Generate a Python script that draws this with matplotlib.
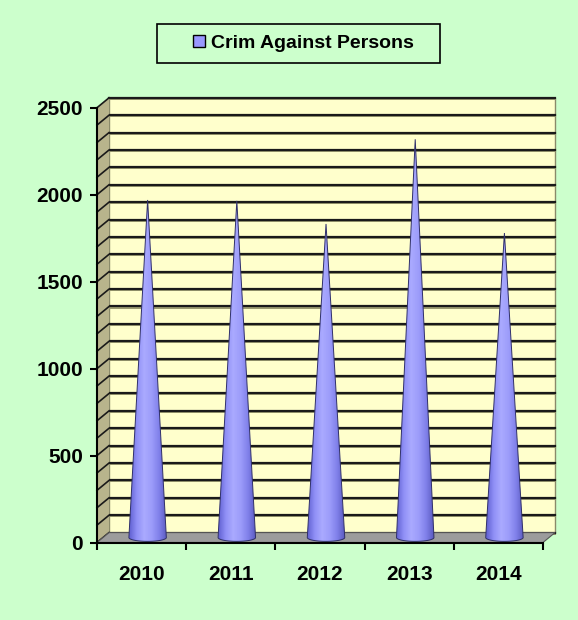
import matplotlib.pyplot as plt
import numpy as np
from matplotlib.patches import Polygon, Rectangle, Patch
from matplotlib.colors import LinearSegmentedColormap

years = ['2010', '2011', '2012', '2013', '2014']
crimes = [1941, 1936, 1803, 2290, 1751]
y_ticks = [0, 500, 1000, 1500, 2000, 2500]
grid_step = 100
series_name = 'Crim Against Persons'

plt.rcParams['font.family'] = ['Liberation Sans', 'DejaVu Sans']
plt.rcParams['font.weight'] = 'bold'

fig = plt.figure(figsize=(5.78, 6.2), dpi=100, facecolor='#CCFFCC')
ax = fig.add_axes([97/578, 77.5/620, 446/578, 434.8/620])
ax.patch.set_visible(False)

# fake 3d depth, in data units (about 12 px right and 10 px up)
dx, dy = 0.135, 57
x0, x1 = -0.5, len(years) - 0.5
ymax = y_ticks[-1]

# back wall with gridlines
ax.add_patch(Rectangle((x0 + dx, dy), x1 - x0, ymax, fc='#FFFFCC', ec='#8a8a6a',
                       lw=1, clip_on=False, zorder=0))
for v in range(0, ymax + 1, grid_step):
    ax.plot([x0 + dx, x1 + dx], [v + dy - 6, v + dy - 6], color='#9a9a70', lw=1.4,
            clip_on=False, zorder=0.4)
    ax.plot([x0 + dx, x1 + dx], [v + dy, v + dy], color='#1a1a1a', lw=1.6,
            clip_on=False, zorder=0.5)

# side wall
ax.add_patch(Polygon([(x0, 0), (x0 + dx, dy), (x0 + dx, ymax + dy), (x0, ymax)],
                     fc='#B8B48C', ec='none', clip_on=False, zorder=1))
for v in range(0, ymax + 1, grid_step):
    ax.plot([x0, x0 + dx], [v, v + dy], color='#1a1a1a', lw=1.2,
            clip_on=False, zorder=1.1)

# floor
ax.add_patch(Polygon([(x0, 0), (x1, 0), (x1 + dx, dy), (x0 + dx, dy)],
                     fc='#9C9C9C', ec='#555555', lw=0.8, clip_on=False, zorder=1.5))

# cones
cmap = LinearSegmentedColormap.from_list(
    'cone', ['#6060d0', '#9090f6', '#aaaaff', '#9c9cfa', '#8080ea', '#5a5ac0'])
grad = np.linspace(0, 1, 64).reshape(1, -1)
r, ey = 0.21, 22
theta = np.linspace(np.pi, 2 * np.pi, 40)
for i, v in enumerate(crimes):
    cx, by = i + dx / 2, dy / 2
    arc = list(zip(cx + r * np.cos(theta), by + ey * np.sin(theta)))
    cone = Polygon([(cx, v + by)] + arc, closed=True, fc='none', ec='#30306a',
                   lw=0.7, zorder=4, clip_on=False)
    ax.add_patch(cone)
    im = ax.imshow(grad, cmap=cmap, extent=[cx - r, cx + r, by - ey, v + by],
                   aspect='auto', zorder=3)
    im.set_clip_path(cone)

ax.set_xlim(x0, x1)
ax.set_ylim(0, ymax)

# axes and ticks
for side in ['top', 'right']:
    ax.spines[side].set_visible(False)
for side in ['left', 'bottom']:
    ax.spines[side].set_linewidth(1.5)
    ax.spines[side].set_zorder(5)
ax.set_yticks(y_ticks)
ax.tick_params(axis='y', direction='out', length=5, width=1.5, pad=5, labelsize=15)
ax.set_xticks(np.arange(x0, x1 + 0.01, 1))
ax.set_xticklabels([])
ax.tick_params(axis='x', which='major', direction='out', length=5, width=1.5)
ax.set_xticks(range(len(years)), minor=True)
ax.set_xticklabels(years, minor=True)
ax.tick_params(axis='x', which='minor', length=0, pad=16, labelsize=15)

# legend
fig.add_artist(Rectangle((157/578, 1 - 63/620), 283/578, 39/620, fc='none',
                         ec='black', lw=1.2, transform=fig.transFigure))
fig.legend(handles=[Patch(fc='#9999FF', ec='black', lw=1, label=series_name)],
           loc='center', bbox_to_anchor=(303.5/578, 1 - 43.5/620), frameon=False,
           fontsize=14, handlelength=0.6, handleheight=0.6, handletextpad=0.3)

fig.savefig('out.png', dpi=100, facecolor=fig.get_facecolor())
